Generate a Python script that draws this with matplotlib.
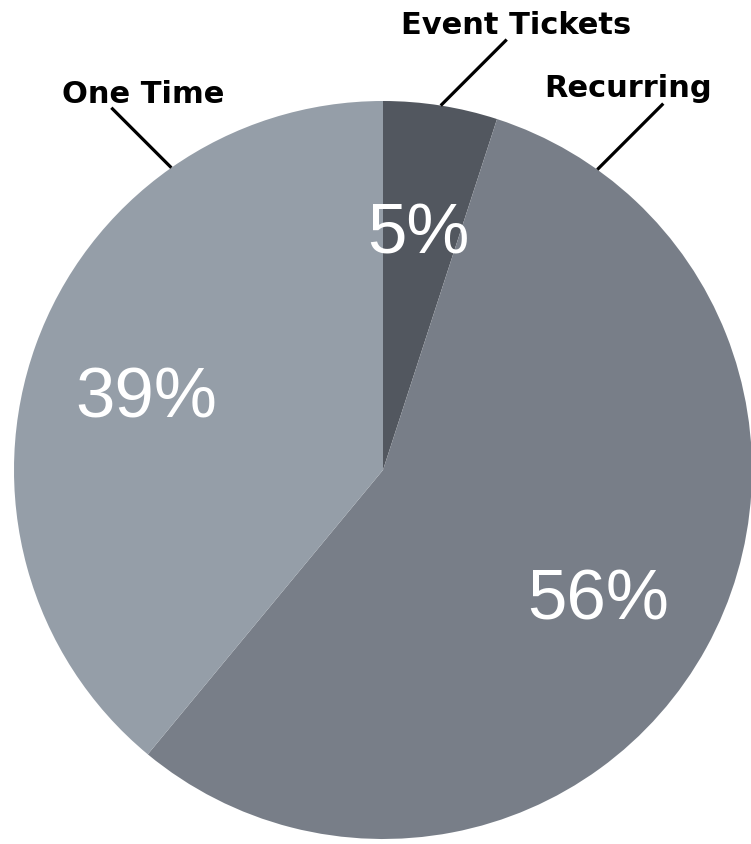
import numpy as np
import matplotlib.pyplot as plt

# データ
labels = ["Event Tickets", "Recurring", "One Time"]
values = [5, 56, 39]
colors = ["#52575f", "#787e88", "#959ea8"]
# リーダー線をつける角度（12時から時計回り、度）
label_angles = [9, 35.5, -35]

W, H = 751, 844
fig = plt.figure(figsize=(W / 100, H / 100), dpi=100)
ax = fig.add_axes([0, 0, 1, 1])

cx, cy, r = 383, H - 470, 369
wedges, texts, autotexts = ax.pie(
    values, colors=colors, startangle=90, counterclock=False,
    center=(cx, cy), radius=r, autopct="%d%%", pctdistance=0.68,
    wedgeprops=dict(linewidth=0),
    textprops=dict(color="white", fontsize=51, family="Liberation Sans"),
)
ax.set_xlim(0, W)
ax.set_ylim(0, H)
ax.set_aspect("equal")
ax.axis("off")

# パーセント表示の位置（中心x, ベースライン）
pct_pos = [(418, 254), (598, 619), (146, 417)]
for t, (px, py) in zip(autotexts, pct_pos):
    t.set_position((px, H - py))
    t.set_ha("center")
    t.set_va("baseline")

# ラベルとリーダー線
text_off = [(9, 6), (-35, 7), (32, 5)]
for lab, ang, (ox, oy) in zip(labels, label_angles, text_off):
    a = np.deg2rad(ang)
    x0 = cx + r * np.sin(a)
    y0 = cy + r * np.cos(a)
    d = 66 if ang >= 0 else -60
    x1 = x0 + d
    y1 = y0 + abs(d)
    ax.plot([x0, x1], [y0, y1], color="black", lw=2.3, solid_capstyle="butt")
    ax.text(x1 + ox, y1 + oy, lab, ha="center", va="baseline",
            fontsize=22, fontweight="bold", family="DejaVu Sans")

plt.savefig("out.png", dpi=100)
